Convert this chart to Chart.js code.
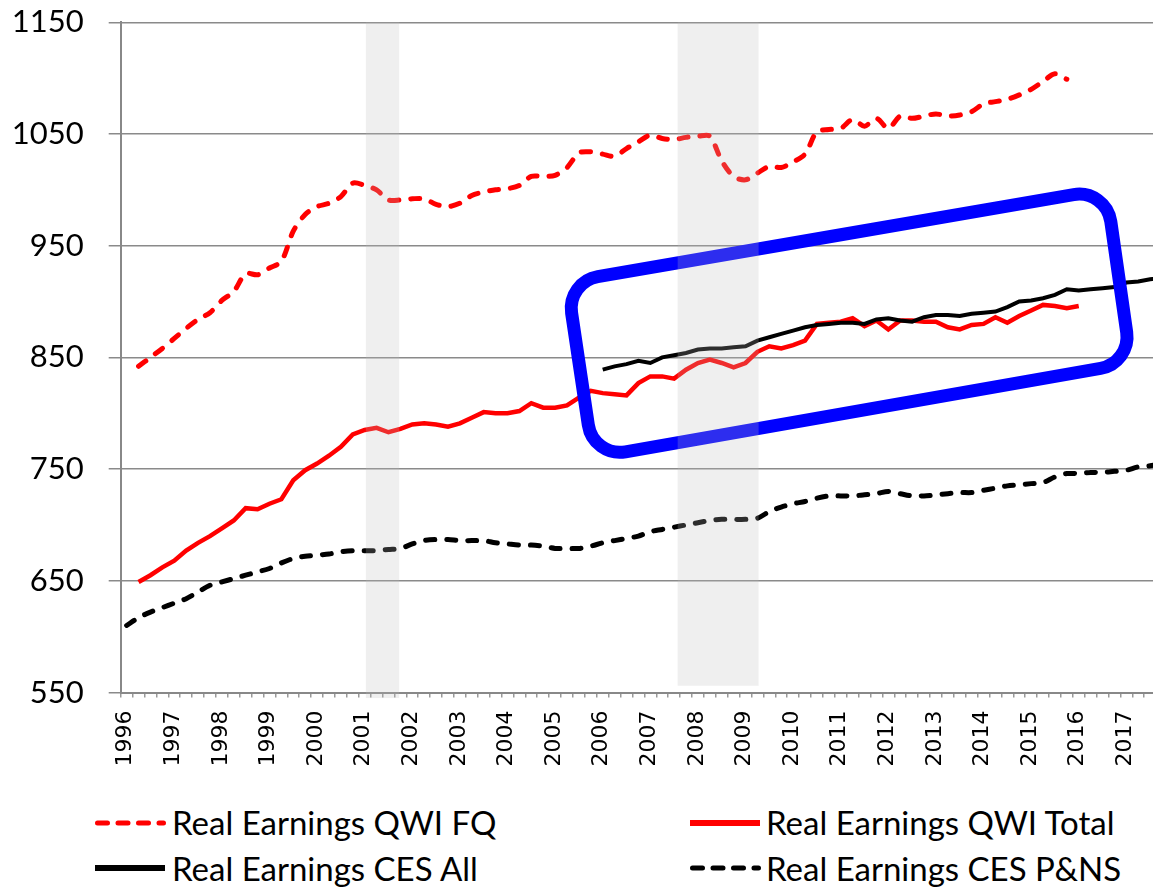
<!DOCTYPE html>
<html>
<head>
<meta charset="utf-8">
<script src="https://cdn.jsdelivr.net/npm/chart.js@4.4.1/dist/chart.umd.min.js"></script>
<style>
  html, body { margin: 0; padding: 0; background: #fff; overflow: hidden; }
  #wrap { position: relative; width: 1153px; height: 888px; overflow: hidden; }
  #box { position: absolute; left: 0; top: 0; width: 1168px; height: 790px; }
  .sw { position: absolute; }
  .lbl { position: absolute; font-family: Lato, sans-serif; font-size: 33px; line-height: 40px; color: #000; white-space: nowrap; }
</style>
</head>
<body>
<div id="wrap">
  <div id="box"><canvas id="c"></canvas></div>

  <svg class="sw" style="left:92px;top:817px" width="78" height="12"><line x1="5.5" y1="6" x2="71.5" y2="6" stroke="#ff0000" stroke-width="5" stroke-dasharray="10 10.5" stroke-linecap="round"/></svg>
  <div class="lbl" style="left:172px;top:802px">Real Earnings QWI FQ</div>

  <svg class="sw" style="left:687px;top:817px" width="76" height="12"><line x1="3" y1="6" x2="73" y2="6" stroke="#ff0000" stroke-width="6"/></svg>
  <div class="lbl" style="left:766px;top:802px">Real Earnings QWI Total</div>

  <svg class="sw" style="left:92px;top:862px" width="76" height="12"><line x1="3" y1="6" x2="73" y2="6" stroke="#000" stroke-width="6"/></svg>
  <div class="lbl" style="left:172px;top:848px">Real Earnings CES All</div>

  <svg class="sw" style="left:687px;top:862px" width="78" height="12"><line x1="5.5" y1="6" x2="71.5" y2="6" stroke="#000" stroke-width="5" stroke-dasharray="10 10.5" stroke-linecap="round"/></svg>
  <div class="lbl" style="left:766px;top:848px">Real Earnings CES P&amp;NS</div>
</div>

<script>
// ─── data (quarterly, 1996 Q1 .. 2017 Q4) ─────────────────────────────
const years = ['1996','1997','1998','1999','2000','2001','2002','2003','2004','2005','2006',
               '2007','2008','2009','2010','2011','2012','2013','2014','2015','2016','2017'];
const quarters = years.flatMap(y => [y + ' Q1', y + ' Q2', y + ' Q3', y + ' Q4']);
const yTicks = [550, 650, 750, 850, 950, 1050, 1150];

// QWI series start in 1996 Q2
const qwiStart = 1;
const qwiFQ = [842, 850, 858, 867, 876, 884, 890, 901, 909, 925, 924, 930, 936, 963, 978,
  985, 988, 994, 1006, 1004, 1000, 991, 991, 992, 992, 987, 985, 988, 995, 998,
  1000, 1001, 1004, 1012, 1012, 1013, 1020, 1033, 1034, 1032, 1030, 1037, 1043, 1049, 1046,
  1045, 1047, 1048, 1048, 1026, 1012, 1009, 1015, 1021, 1020, 1025, 1032, 1052, 1054, 1055,
  1063, 1057, 1064, 1055, 1066, 1064, 1066, 1068, 1066, 1067, 1070, 1077, 1079, 1081, 1085,
  1090, 1097, 1104, 1099];
const qwiTotal = [649, 655, 662, 668, 677, 684, 690, 697, 704, 715, 714, 719, 723, 740, 749,
  755, 762, 770, 781, 785, 787, 783, 786, 790, 791, 790, 788, 791, 796, 801,
  800, 800, 802, 809, 805, 805, 807, 814, 820, 818, 817, 816, 827, 833, 833,
  831, 839, 845, 848, 845, 841, 845, 855, 860, 858, 861, 865, 880, 881, 882,
  885, 878, 883, 875, 883, 883, 882, 882, 877, 875, 879, 880, 886, 881, 887,
  892, 897, 896, 894, 896];

// CES All starts in 2006 Q1
const cesAllStart = 40;
const cesAll = [839, 842, 844, 847, 845, 850, 852, 854, 857, 858, 858, 859, 860, 865, 868,
  871, 874, 877, 879, 880, 881, 881, 880, 884, 885, 883, 882, 886, 888, 888,
  887, 889, 890, 891, 895, 900, 901, 903, 906, 911, 910, 911, 912, 913, 917,
  918, 920, 921];

const cesPNSStart = 0;
const cesPNS = [610, 617, 622, 626, 630, 634, 640, 646, 649, 652, 655, 658, 661, 666, 670,
  672, 673, 674, 676, 677, 677, 677, 678, 679, 683, 686, 687, 687, 686, 686,
  686, 684, 683, 682, 682, 681, 679, 679, 679, 681, 684, 686, 688, 690, 694,
  696, 698, 700, 702, 704, 705, 705, 705, 706, 712, 716, 719, 721, 724, 726,
  726, 726, 727, 728, 730, 728, 726, 726, 727, 728, 729, 729, 731, 733, 735,
  736, 737, 738, 743, 746, 746, 747, 747, 748, 749, 752, 753, 755];

// recession shading, in quarter-index units
const recessionFrom  = [20.1, 46.3];
const recessionTo    = [22.9, 53.1];
const recessionFloor = [545, 556];

// highlight box corners [quarter index, value]: TL, TR, BR, BL
const boxCorners = [[37.0, 917.5], [82.3, 1000.8], [84.4, 845.0], [39.2, 760.4]];

function pad(start, vals) {
  const out = Array(quarters.length).fill(null);
  vals.forEach((v, i) => { out[start + i] = v; });
  return out;
}

// ─── overlay: blue box + translucent recession bands ──────────────────
const overlayPlugin = {
  id: 'overlay',
  afterDatasetsDraw(chart) {
    const { ctx, scales: { x, y } } = chart;
    const p = boxCorners.map(([i, v]) => [x.getPixelForValue(i), y.getPixelForValue(v)]);
    const r = 32;
    ctx.save();
    ctx.beginPath();
    ctx.moveTo((p[0][0] + p[1][0]) / 2, (p[0][1] + p[1][1]) / 2);
    ctx.arcTo(p[1][0], p[1][1], p[2][0], p[2][1], r);
    ctx.arcTo(p[2][0], p[2][1], p[3][0], p[3][1], r);
    ctx.arcTo(p[3][0], p[3][1], p[0][0], p[0][1], r);
    ctx.arcTo(p[0][0], p[0][1], p[1][0], p[1][1], r);
    ctx.closePath();
    ctx.strokeStyle = '#0000ff';
    ctx.lineWidth = 13;
    ctx.stroke();

    // bands sit on top of everything, slightly see-through
    ctx.fillStyle = 'rgba(187,187,187,0.24)';
    recessionFrom.forEach((f, k) => {
      const x0 = x.getPixelForValue(f), x1 = x.getPixelForValue(recessionTo[k]);
      const y0 = y.getPixelForValue(1150), y1 = y.getPixelForValue(recessionFloor[k]);
      ctx.fillRect(x0, y0, x1 - x0, y1 - y0);
    });
    ctx.restore();
  }
};

new Chart(document.getElementById('c'), {
  type: 'line',
  data: {
    labels: quarters,
    datasets: [
      { label: 'Real Earnings QWI FQ', data: pad(qwiStart, qwiFQ), borderColor: '#ff0000',
        borderWidth: 5, borderDash: [9, 12], borderCapStyle: 'round', tension: 0.3, order: 4 },
      { label: 'Real Earnings QWI Total', data: pad(qwiStart, qwiTotal), borderColor: '#ff0000',
        borderWidth: 4.5, tension: 0, order: 2 },
      { label: 'Real Earnings CES All', data: pad(cesAllStart, cesAll), borderColor: '#000000',
        borderWidth: 4, tension: 0, order: 1 },
      { label: 'Real Earnings CES P&NS', data: pad(cesPNSStart, cesPNS), borderColor: '#000000',
        borderWidth: 5, borderDash: [9, 12], borderCapStyle: 'round', tension: 0.3, order: 3 }
    ]
  },
  options: {
    responsive: true,
    maintainAspectRatio: false,
    animation: false,
    devicePixelRatio: 1,
    elements: { point: { radius: 0 }, line: { fill: false } },
    layout: { padding: { top: 22.3, right: 0, bottom: 0, left: 0 } },
    plugins: { legend: { display: false }, tooltip: { enabled: false } },
    scales: {
      x: {
        offset: true,
        grid: { offset: true, drawOnChartArea: false, drawTicks: true, tickLength: 5, color: '#999', lineWidth: 1.5 },
        border: { color: '#888', width: 2 },
        ticks: {
          autoSkip: false, maxRotation: 90, minRotation: 90, padding: 13, labelOffset: -1,
          color: '#000', font: { family: '"DejaVu Sans", Verdana, sans-serif', size: 22 },
          callback: (v, i) => (i % 4 === 0 ? years[i / 4] : '')
        },
        afterFit: s => { s.height = 97.5; s.paddingLeft = 0; s.paddingRight = 0; }
      },
      y: {
        min: 550, max: 1150,
        afterBuildTicks: s => { s.ticks = yTicks.map(v => ({ value: v })); },
        grid: { color: '#8a8a8a', lineWidth: 1.5, tickLength: 12 },
        border: { color: '#888', width: 2 },
        ticks: { padding: 25, color: '#000', font: { family: 'Lato', size: 31 }, callback: v => String(v) },
        afterFit: s => { s.width = 120.7; s.paddingTop = 0; s.paddingBottom = 0; }
      }
    }
  },
  plugins: [overlayPlugin]
});
</script>
</body>
</html>
